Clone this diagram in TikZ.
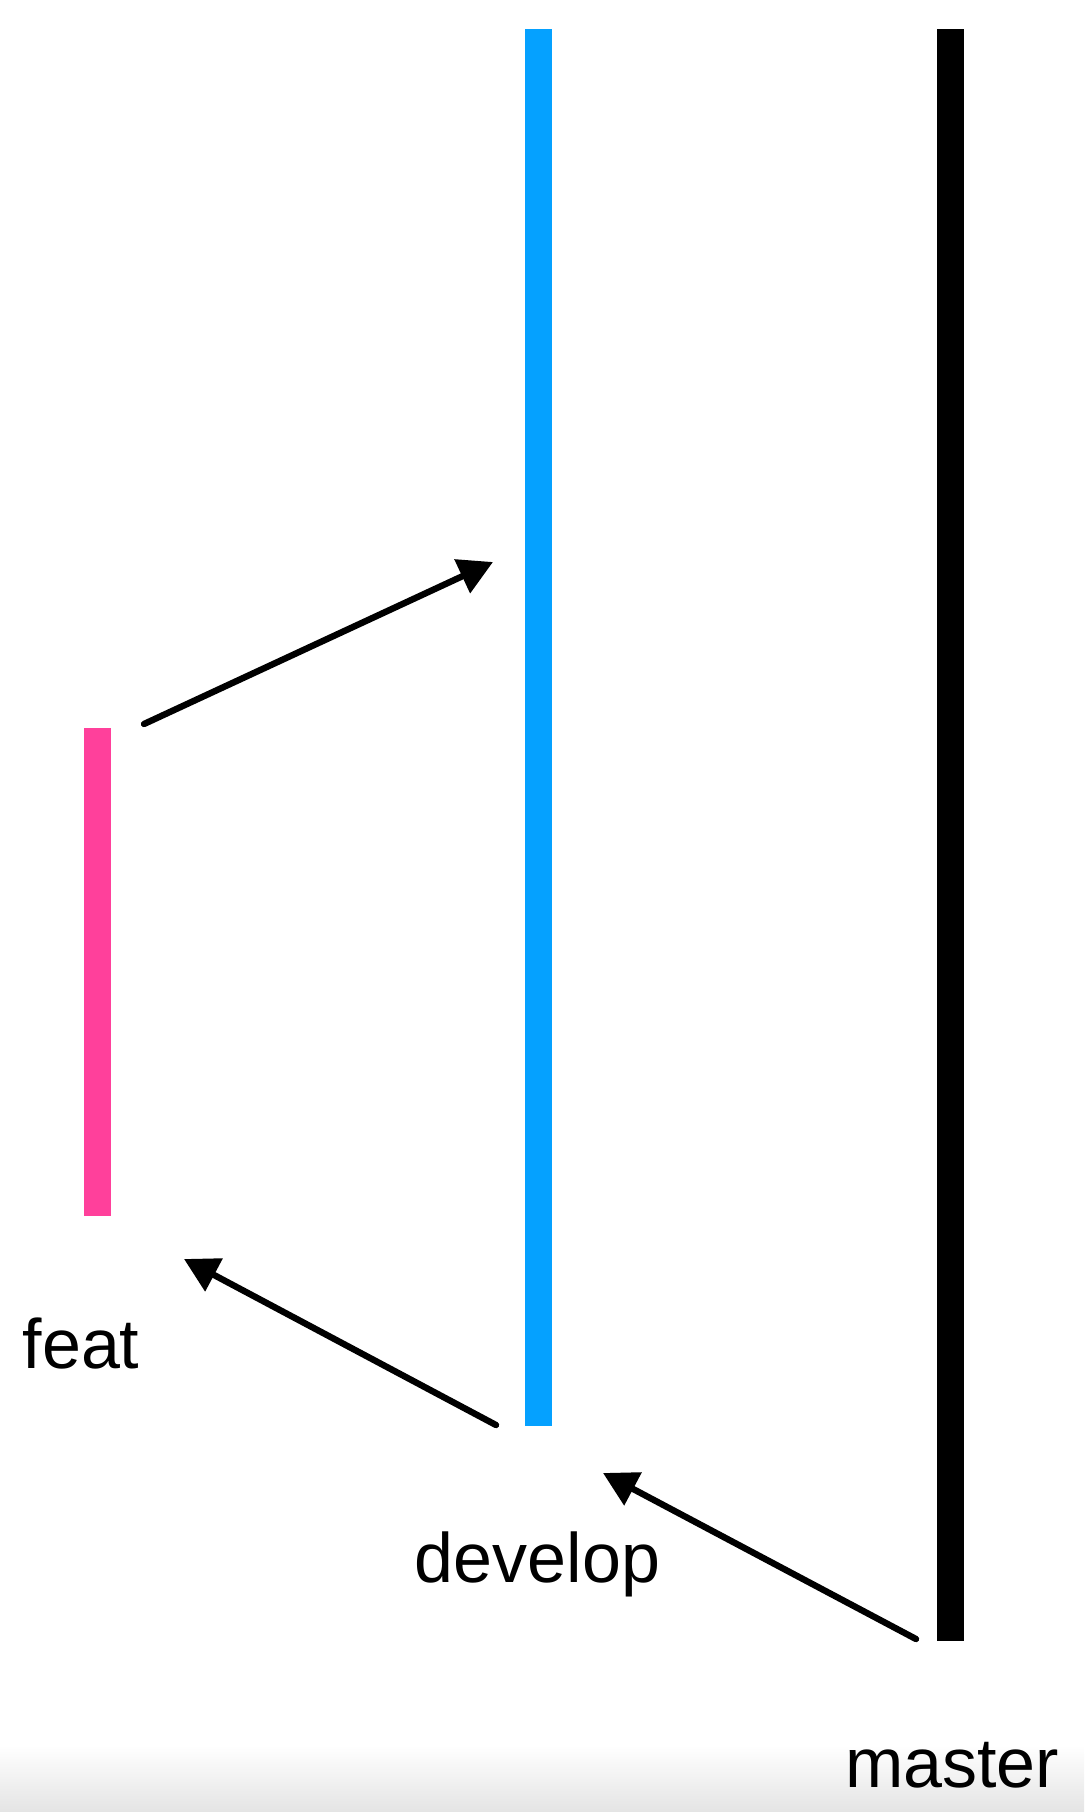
\documentclass[tikz,border=0pt]{standalone}
\usepackage{fontspec}
\setmainfont{Liberation Sans}
\usetikzlibrary{arrows.meta}
\definecolor{devblue}{RGB}{5,161,255}
\definecolor{featpink}{RGB}{255,64,155}
\definecolor{shadegray}{RGB}{228,228,228}
\begin{document}
\begin{tikzpicture}[x=0.5pt,y=-0.5pt,
  branch/.style={line width=13.5pt},
  merge/.style={line width=3.2pt,line cap=round,-{Triangle[length=17pt,width=18pt]}},
  label/.style={inner sep=0pt,anchor=base,font=\fontsize{35}{42}\selectfont}]
\useasboundingbox (0,0) rectangle (1084,1812);
\fill[white] (0,0) rectangle (1084,1812);
\shade[top color=white,bottom color=shadegray] (0,1745) rectangle (1084,1812);
% branches
\coordinate (devtop) at (538,29);
\coordinate (devbot) at (538,1426);
\coordinate (mastop) at (950.5,29);
\coordinate (masbot) at (950.5,1641);
\coordinate (feattop) at (97,728);
\coordinate (featbot) at (97,1216);
\draw[branch,devblue] (devtop) -- (devbot);
\draw[branch,black] (mastop) -- (masbot);
\draw[branch,featpink] (feattop) -- (featbot);
% labels
\node[label] (feat) at (81,1368) {feat};
\node[label] (develop) at (537.5,1582) {develop};
\node[label] (master) at (952,1787) {master};
% arrows
\coordinate (a1s) at (144,724);
\coordinate (a1e) at (493,562);
\coordinate (a2s) at (496,1425);
\coordinate (a2e) at (184,1259);
\coordinate (a3s) at (916,1639);
\coordinate (a3e) at (603,1473);
\draw[merge] (a1s) -- (a1e);
\draw[merge] (a2s) -- (a2e);
\draw[merge] (a3s) -- (a3e);
\end{tikzpicture}
\end{document}
